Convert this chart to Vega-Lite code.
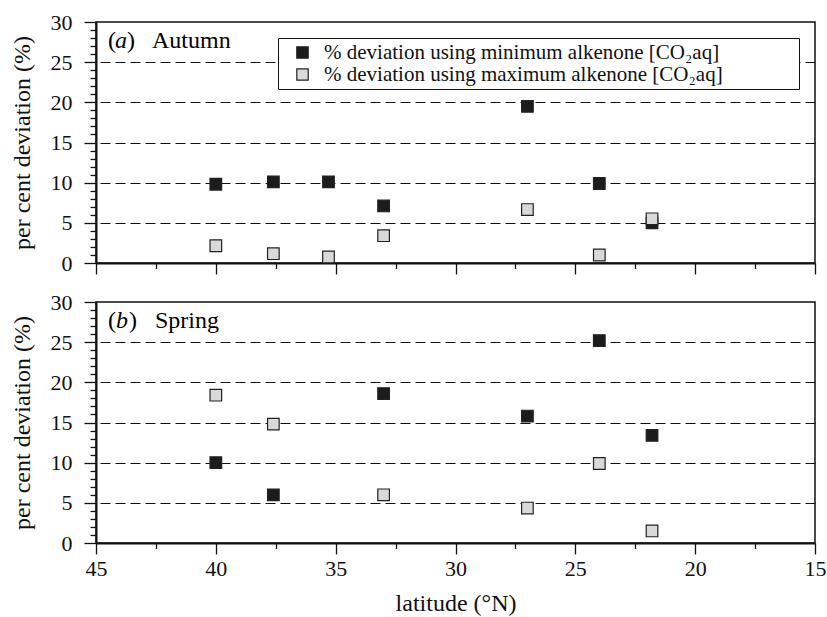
{
  "$schema": "https://vega.github.io/schema/vega-lite/v6.json",
  "background": "white",
  "padding": {"left": 9, "top": 10, "right": 0, "bottom": 0},
  "datasets": {
    "points": [
      {"season": "Autumn", "series": "min", "lat": 40.0, "dev": 9.8},
      {"season": "Autumn", "series": "min", "lat": 37.6, "dev": 10.1},
      {"season": "Autumn", "series": "min", "lat": 35.3, "dev": 10.1},
      {"season": "Autumn", "series": "min", "lat": 33.0, "dev": 7.1},
      {"season": "Autumn", "series": "min", "lat": 27.0, "dev": 19.5},
      {"season": "Autumn", "series": "min", "lat": 24.0, "dev": 9.9},
      {"season": "Autumn", "series": "min", "lat": 21.8, "dev": 5.0},
      {"season": "Autumn", "series": "max", "lat": 40.0, "dev": 2.15},
      {"season": "Autumn", "series": "max", "lat": 37.6, "dev": 1.16},
      {"season": "Autumn", "series": "max", "lat": 35.3, "dev": 0.75},
      {"season": "Autumn", "series": "max", "lat": 33.0, "dev": 3.4},
      {"season": "Autumn", "series": "max", "lat": 27.0, "dev": 6.65},
      {"season": "Autumn", "series": "max", "lat": 24.0, "dev": 1.0},
      {"season": "Autumn", "series": "max", "lat": 21.8, "dev": 5.5},
      {"season": "Spring", "series": "min", "lat": 40.0, "dev": 10.0},
      {"season": "Spring", "series": "min", "lat": 37.6, "dev": 6.0},
      {"season": "Spring", "series": "min", "lat": 33.0, "dev": 18.6},
      {"season": "Spring", "series": "min", "lat": 27.0, "dev": 15.8},
      {"season": "Spring", "series": "min", "lat": 24.0, "dev": 25.2},
      {"season": "Spring", "series": "min", "lat": 21.8, "dev": 13.4},
      {"season": "Spring", "series": "max", "lat": 40.0, "dev": 18.4},
      {"season": "Spring", "series": "max", "lat": 37.6, "dev": 14.8},
      {"season": "Spring", "series": "max", "lat": 33.0, "dev": 6.0},
      {"season": "Spring", "series": "max", "lat": 27.0, "dev": 4.35},
      {"season": "Spring", "series": "max", "lat": 24.0, "dev": 9.9},
      {"season": "Spring", "series": "max", "lat": 21.8, "dev": 1.5}
    ]
  },
  "bounds": "flush",
  "spacing": 39,
  "resolve": {"legend": {"fill": "independent"}},
  "vconcat": [
    {
      "width": 719,
      "height": 241,
      "resolve": {"axis": {"y": "independent"}},
      "layer": [
        {
          "data": {"name": "points"},
          "transform": [{"filter": "datum.season === 'Autumn'"}],
          "mark": {"type": "point", "shape": "square", "filled": true, "size": 135, "stroke": "#222222", "strokeWidth": 1.2, "opacity": 1},
          "encoding": {
            "x": {
              "field": "lat", "type": "quantitative",
              "scale": {"domain": [15, 45], "reverse": true, "nice": false, "zero": false},
              "axis": {
                "values": [15, 17.5, 20, 22.5, 25, 27.5, 30, 32.5, 35, 37.5, 40, 42.5, 45],
                "labels": false, "title": null, "grid": false,
                "tickSize": {"condition": {"test": "datum.value % 5 === 0", "value": 11}, "value": 5.5}
              }
            },
            "y": {
              "field": "dev", "type": "quantitative",
              "scale": {"domain": [0, 30], "nice": false},
              "axis": {
                "orient": "left",
                "values": [0,1,2,3,4,5,6,7,8,9,10,11,12,13,14,15,16,17,18,19,20,21,22,23,24,25,26,27,28,29,30],
                "labelExpr": "datum.value % 5 === 0 ? datum.label : ''",
                "labelOverlap": false,
                "tickSize": {"condition": {"test": "datum.value % 5 === 0", "value": 12}, "value": 6},
                "grid": false,
                "title": "per cent deviation (%)"
              }
            },
            "fill": {
              "field": "series", "type": "nominal",
              "scale": {"domain": ["min", "max"], "range": ["#1c1c1c", "#d9d9d9"]},
              "legend": {
                "orient": "none", "legendX": 182, "legendY": 16,
                "title": null,
                "labelExpr": "datum.value === 'min' ? '% deviation using minimum alkenone [CO₂aq]\u2800\u2800\u2800\u2800\u2800' : '% deviation using maximum alkenone [CO₂aq]'"
              }
            }
          }
        },
        {"data": {"values": [{"t": "("}]}, "mark": {"type": "text", "align": "left", "baseline": "alphabetic", "dx": 0, "font": "Liberation Serif", "fontSize": 24, "color": "black"},
         "encoding": {"x": {"datum": 44.5, "type": "quantitative"},
                      "y": {"datum": 26.75, "type": "quantitative", "axis": {"orient": "left", "values": [5, 10, 15, 20, 25], "grid": true, "ticks": false, "labels": false, "domain": false, "title": null}},
                      "text": {"field": "t"}}},
        {"data": {"values": [{"t": "a"}]}, "mark": {"type": "text", "align": "left", "baseline": "alphabetic", "dx": 7, "font": "Liberation Serif", "fontStyle": "italic", "fontSize": 24, "color": "black"},
         "encoding": {"x": {"datum": 44.5, "type": "quantitative"}, "y": {"datum": 26.75, "type": "quantitative", "axis": null}, "text": {"field": "t"}}},
        {"data": {"values": [{"t": ")"}]}, "mark": {"type": "text", "align": "left", "baseline": "alphabetic", "dx": 19, "font": "Liberation Serif", "fontSize": 24, "color": "black"},
         "encoding": {"x": {"datum": 44.5, "type": "quantitative"}, "y": {"datum": 26.75, "type": "quantitative", "axis": null}, "text": {"field": "t"}}},
        {"data": {"values": [{"t": "Autumn"}]}, "mark": {"type": "text", "align": "left", "baseline": "alphabetic", "dx": 44, "font": "Liberation Serif", "fontSize": 24, "color": "black"},
         "encoding": {"x": {"datum": 44.5, "type": "quantitative"}, "y": {"datum": 26.75, "type": "quantitative", "axis": null}, "text": {"field": "t"}}}
      ]
    },
    {
      "width": 719,
      "height": 241,
      "resolve": {"axis": {"y": "independent"}},
      "layer": [
        {
          "data": {"name": "points"},
          "transform": [{"filter": "datum.season === 'Spring'"}],
          "mark": {"type": "point", "shape": "square", "filled": true, "size": 135, "stroke": "#222222", "strokeWidth": 1.2, "opacity": 1},
          "encoding": {
            "x": {
              "field": "lat", "type": "quantitative",
              "scale": {"domain": [15, 45], "reverse": true, "nice": false, "zero": false},
              "axis": {
                "values": [15, 17.5, 20, 22.5, 25, 27.5, 30, 32.5, 35, 37.5, 40, 42.5, 45],
                "labelExpr": "datum.value % 5 === 0 ? datum.label : ''",
                "labelOverlap": false,
                "title": "latitude (°N)", "grid": false,
                "tickSize": {"condition": {"test": "datum.value % 5 === 0", "value": 11}, "value": 5.5}
              }
            },
            "y": {
              "field": "dev", "type": "quantitative",
              "scale": {"domain": [0, 30], "nice": false},
              "axis": {
                "orient": "left",
                "values": [0,1,2,3,4,5,6,7,8,9,10,11,12,13,14,15,16,17,18,19,20,21,22,23,24,25,26,27,28,29,30],
                "labelExpr": "datum.value % 5 === 0 ? datum.label : ''",
                "labelOverlap": false,
                "tickSize": {"condition": {"test": "datum.value % 5 === 0", "value": 12}, "value": 6},
                "grid": false,
                "title": "per cent deviation (%)"
              }
            },
            "fill": {
              "field": "series", "type": "nominal",
              "scale": {"domain": ["min", "max"], "range": ["#1c1c1c", "#d9d9d9"]},
              "legend": null
            }
          }
        },
        {"data": {"values": [{"t": "("}]}, "mark": {"type": "text", "align": "left", "baseline": "alphabetic", "dx": 0, "font": "Liberation Serif", "fontSize": 24, "color": "black"},
         "encoding": {"x": {"datum": 44.5, "type": "quantitative"},
                      "y": {"datum": 26.75, "type": "quantitative", "axis": {"orient": "left", "values": [5, 10, 15, 20, 25], "grid": true, "ticks": false, "labels": false, "domain": false, "title": null}},
                      "text": {"field": "t"}}},
        {"data": {"values": [{"t": "b"}]}, "mark": {"type": "text", "align": "left", "baseline": "alphabetic", "dx": 8, "font": "Liberation Serif", "fontStyle": "italic", "fontSize": 24, "color": "black"},
         "encoding": {"x": {"datum": 44.5, "type": "quantitative"}, "y": {"datum": 26.75, "type": "quantitative", "axis": null}, "text": {"field": "t"}}},
        {"data": {"values": [{"t": ")"}]}, "mark": {"type": "text", "align": "left", "baseline": "alphabetic", "dx": 21, "font": "Liberation Serif", "fontSize": 24, "color": "black"},
         "encoding": {"x": {"datum": 44.5, "type": "quantitative"}, "y": {"datum": 26.75, "type": "quantitative", "axis": null}, "text": {"field": "t"}}},
        {"data": {"values": [{"t": "Spring"}]}, "mark": {"type": "text", "align": "left", "baseline": "alphabetic", "dx": 47, "font": "Liberation Serif", "fontSize": 24, "color": "black"},
         "encoding": {"x": {"datum": 44.5, "type": "quantitative"}, "y": {"datum": 26.75, "type": "quantitative", "axis": null}, "text": {"field": "t"}}}
      ]
    }
  ],
  "config": {
    "view": {"stroke": "#111111", "strokeWidth": 1.5},
    "axis": {
      "labelFont": "Liberation Serif", "labelFontSize": 22, "labelColor": "#111111",
      "titleFont": "Liberation Serif", "titleFontSize": 24, "titleFontWeight": "normal", "titleColor": "#111111",
      "domainColor": "#111111", "domainWidth": 2,
      "tickColor": "#111111", "tickWidth": 1.3,
      "gridColor": "#111111", "gridDash": [10, 5], "gridWidth": 1
    },
    "axisY": {"labelPadding": 12, "titlePadding": 16},
    "axisX": {"labelPadding": 4, "titlePadding": 12, "labelFlush": false},
    "legend": {
      "labelFont": "Liberation Serif", "labelFontSize": 21, "labelColor": "#111111", "labelLimit": 0,
      "symbolType": "square", "symbolSize": 130, "symbolStrokeColor": "#222222", "symbolStrokeWidth": 1.2,
      "strokeColor": "#111111", "strokeWidth": 1, "padding": 4, "rowPadding": 0,
      "symbolOffset": 10, "labelOffset": 11, "fillColor": "white"
    }
  }
}
